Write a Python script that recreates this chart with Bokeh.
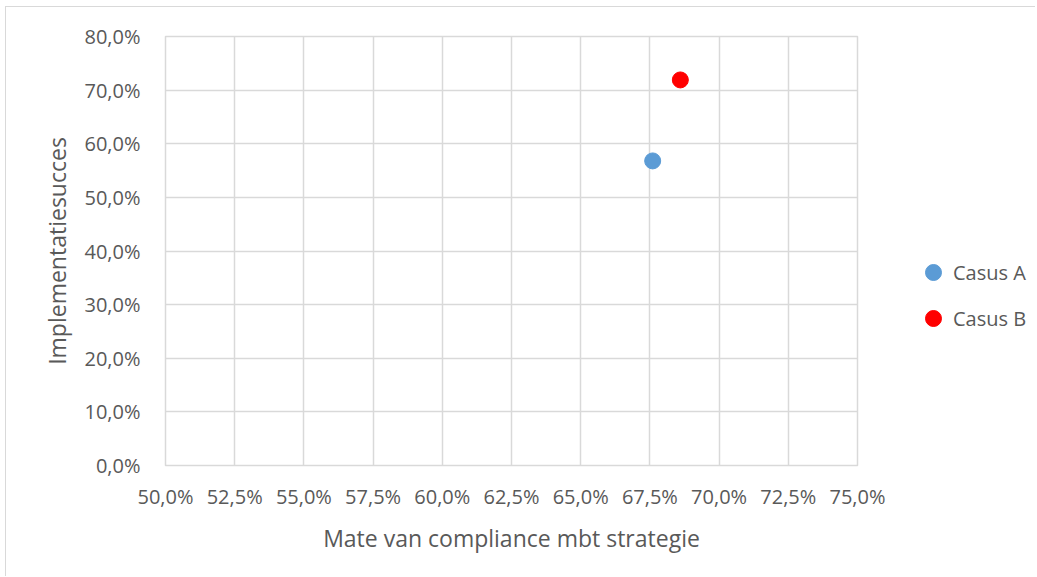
from bokeh.plotting import figure
from bokeh.layouts import row
from bokeh.models import (ColumnDataSource, Range1d, FixedTicker, CustomJSTickFormatter,
                          Legend, LegendItem)
from bokeh.embed import file_html
from bokeh.resources import INLINE

# Data (percent units)
series_names = ["Casus A", "Casus B"]
compliance = [67.6, 68.6]
implementatie = [56.8, 71.9]
colors = ["#5B9BD5", "#FF0000"]

x_ticks = [50.0, 52.5, 55.0, 57.5, 60.0, 62.5, 65.0, 67.5, 70.0, 72.5, 75.0]
y_ticks = [0, 10, 20, 30, 40, 50, 60, 70, 80]

FONT = "Open Sans"
TXT = "#595959"
GRID = "#D9D9D9"

p = figure(width=891, height=569, output_backend="svg", toolbar_location=None,
           x_range=Range1d(50, 75), y_range=Range1d(0, 80),
           min_border_left=159, min_border_right=40, min_border_top=29, min_border_bottom=111)
p.outline_line_color = GRID
p.outline_line_width = 1.5
p.background_fill_color = "white"
p.border_fill_color = "white"

fmt = CustomJSTickFormatter(code="return tick.toFixed(1).replace('.', ',') + '%';")

for ax, ticks in ((p.xaxis[0], x_ticks), (p.yaxis[0], y_ticks)):
    ax.ticker = FixedTicker(ticks=ticks)
    ax.formatter = fmt
    ax.axis_line_color = None
    ax.major_tick_line_color = None
    ax.minor_tick_line_color = None
    ax.major_label_text_font = FONT
    ax.major_label_text_font_size = "20px"
    ax.major_label_text_color = TXT
    ax.axis_label_text_font = FONT
    ax.axis_label_text_font_size = "23px"
    ax.axis_label_text_color = TXT
    ax.axis_label_text_font_style = "normal"

p.xaxis[0].axis_label = "Mate van compliance mbt strategie"
p.yaxis[0].axis_label = "Implementatiesucces"
p.xaxis[0].major_label_standoff = 11
p.yaxis[0].major_label_standoff = 19
p.xaxis[0].axis_label_standoff = 9
p.yaxis[0].axis_label_standoff = 8

p.xgrid.ticker = FixedTicker(ticks=x_ticks)
p.ygrid.ticker = FixedTicker(ticks=y_ticks)
for g in (p.xgrid[0], p.ygrid[0]):
    g.grid_line_color = GRID
    g.grid_line_width = 1.5

# Legend panel (separate figure so the legend can sit outside the plot frame)
lg = figure(width=138, height=569, output_backend="svg", toolbar_location=None,
            x_axis_type=None, y_axis_type=None,
            x_range=Range1d(0, 1), y_range=Range1d(0, 1),
            min_border_left=0, min_border_right=0, min_border_top=29, min_border_bottom=111)
lg.outline_line_color = None
lg.xgrid.visible = False
lg.ygrid.visible = False
lg.background_fill_color = "white"
lg.border_fill_color = "white"

items = []
for name, xv, yv, c in zip(series_names, compliance, implementatie, colors):
    src = ColumnDataSource(dict(x=[xv], y=[yv]))
    p.scatter("x", "y", source=src, size=16, fill_color=c, line_color=c)
    key = lg.scatter("x", "y", source=src, size=16, fill_color=c, line_color=c)
    key.visible = False
    items.append(LegendItem(label=name, renderers=[key]))

legend = Legend(items=items, location=(16, 127), border_line_color=None,
                background_fill_alpha=0, padding=0, margin=0, spacing=6,
                glyph_width=40, glyph_height=40, label_height=20, label_standoff=0,
                click_policy="none", inactive_fill_alpha=0,
                label_text_font=FONT, label_text_font_size="20px", label_text_color=TXT)
lg.add_layout(legend, "center")

layout = row(p, lg, spacing=0)
layout.styles = {"border-left": "1px solid #D9D9D9", "border-top": "1px solid #D9D9D9",
                 "margin-left": "5px", "margin-top": "6px"}

open("out.html", "w").write(file_html(layout, INLINE))
